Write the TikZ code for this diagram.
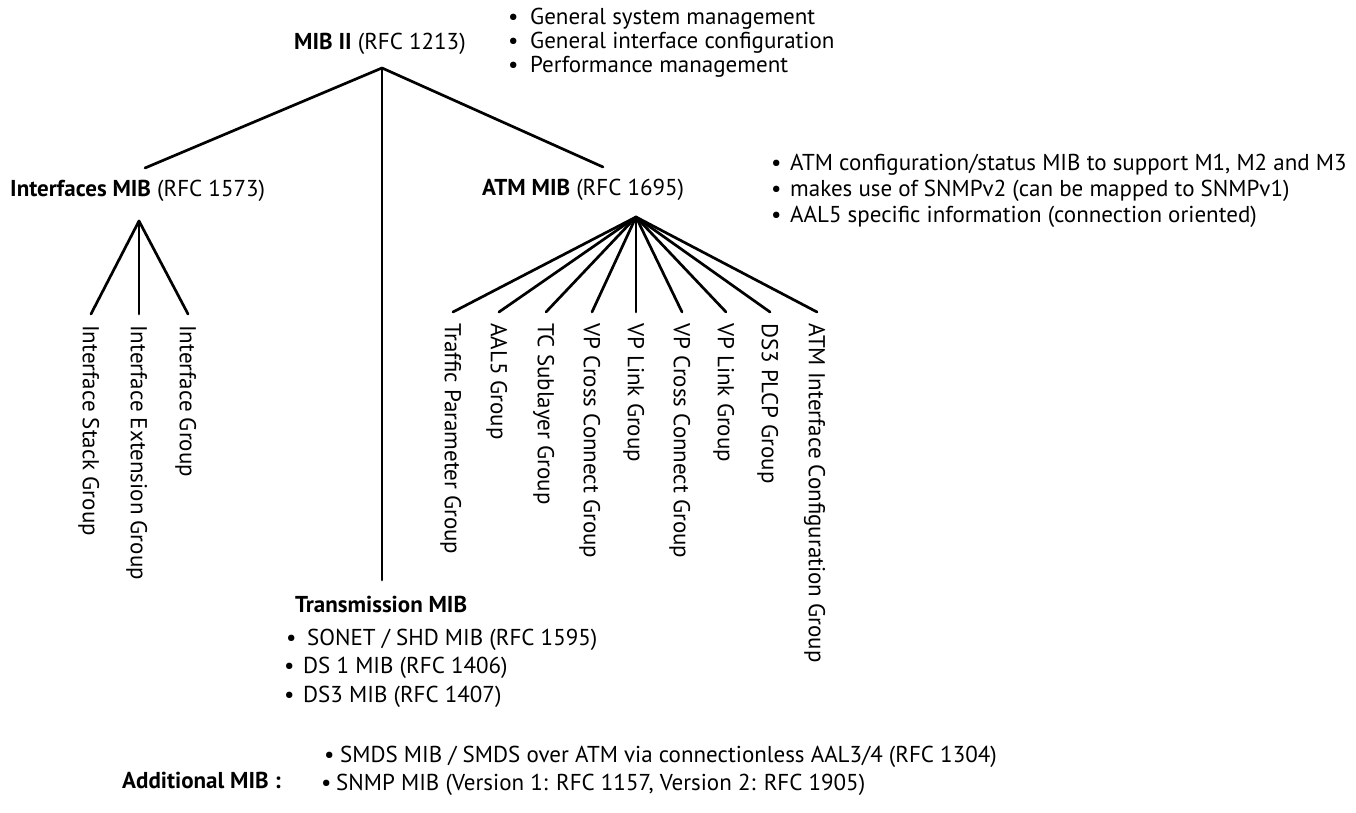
\documentclass[tikz,border=0pt]{standalone}
\usepackage{fontspec}
\setmainfont{PT Sans}
\newcommand\bul[1][15pt]{\makebox[#1][l]{\textbullet}}
\begin{document}
\begin{tikzpicture}[x=1pt,y=-1pt,
  txt/.style={font=\fontsize{23}{27}\selectfont, inner sep=0pt, anchor=west},
  grp/.style={font=\fontsize{23}{27}\selectfont, rotate=-90, anchor=west,
              inner xsep=11pt, inner ysep=0pt, text depth=0pt},
  branch/.style={line width=2.7pt, line cap=round, line join=round}]
\useasboundingbox (0,0) rectangle (1356,813);

% ---- MIB II root and its notes
\node[txt] (mib2) at (294,44) {\textbf{MIB II} (RFC 1213)};
\node[txt] (n1) at (508,19) {\bul[22pt]General system management};
\node[txt] (n2) at (508,43) {\bul[22pt]General interface configuration};
\node[txt] (n3) at (508,67) {\bul[22pt]Performance management};

\coordinate (root) at (382,68);
\coordinate (ifin) at (145,168);
\coordinate (atmin) at (603,167);
\coordinate (trin) at (382,580);

% ---- second level
\node[txt] (ifmib) at (10,191) {\textbf{Interfaces MIB} (RFC 1573)};
\node[txt] (atmmib) at (482,190) {\textbf{ATM MIB} (RFC 1695)};
\node[txt] (a1) at (771,165) {\bul[19pt]ATM configuration/status MIB to support M1, M2 and M3};
\node[txt] (a2) at (771,191) {\bul[19pt]makes use of SNMPv2 (can be mapped to SNMPv1)};
\node[txt] (a3) at (771,217) {\bul[19pt]AAL5 specific information (connection oriented)};

\draw[branch] (ifin) -- (root) -- (atmin);
\draw[branch] (root) -- (trin);

% ---- Transmission MIB
\node[txt] (trans) at (295,604) {\textbf{Transmission MIB}};
\node[txt] (t1) at (286,640) {\bul[21pt]SONET / SHD MIB (RFC 1595)};
\node[txt] (t2) at (284,668) {\bul[19pt]DS 1 MIB (RFC 1406)};
\node[txt] (t3) at (284,697) {\bul[19pt]DS3 MIB (RFC 1407)};

% ---- Interfaces MIB groups
\coordinate (ifroot) at (139,221);
\node[grp] (if1) at (91,314) {Interface Stack Group};
\node[grp] (if2) at (139,314) {Interface Extension Group};
\node[grp] (if3) at (188,314) {Interface Group};
\foreach \g in {if1,if2,if3}
  \draw[branch] (ifroot) -- (\g.west);

% ---- ATM MIB groups
\coordinate (atmroot) at (636,217);
\node[grp] (m1) at (453,312) {Traffic Parameter Group};
\node[grp] (m2) at (499,312) {AAL5 Group};
\node[grp] (m3) at (546,312) {TC Sublayer Group};
\node[grp] (m4) at (592,312) {VP Cross Connect Group};
\node[grp] (m5) at (636,312) {VP Link Group};
\node[grp] (m6) at (682,312) {VP Cross Connect Group};
\node[grp] (m7) at (726,312) {VP Link Group};
\node[grp] (m8) at (770,312) {DS3 PLCP Group};
\node[grp] (m9) at (817,312) {ATM Interface Configuration Group};
\foreach \g in {m1,m2,m3,m4,m5,m6,m7,m8,m9}
  \draw[branch] (atmroot) -- (\g.west);

% ---- Additional MIB
\node[txt] (add) at (122,780) {\textbf{Additional MIB :}};
\node[txt] (d1) at (324,757) {\bul[16pt]SMDS MIB / SMDS over ATM via connectionless AAL3/4 (RFC 1304)};
\node[txt] (d2) at (321,785) {\bul[15pt]SNMP MIB (Version 1: RFC 1157, Version 2: RFC 1905)};
\end{tikzpicture}
\end{document}
